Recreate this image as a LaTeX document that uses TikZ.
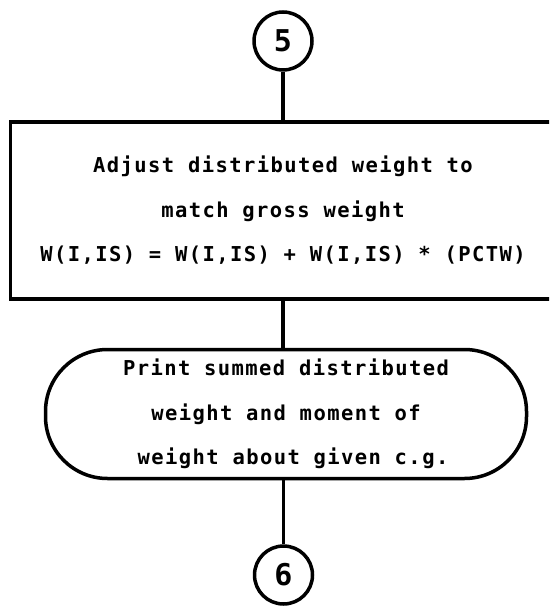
\documentclass[tikz,border=0pt]{standalone}
\usepackage{fontspec}
\newfontfamily\lettering[LetterSpace=6.9]{DejaVu Sans Mono}
\begin{document}
\begin{tikzpicture}[x=1pt, y=1pt, line width=3.5pt,
  conn/.style={draw, circle, minimum size=58pt, inner sep=0pt, font=\lettering\bfseries\fontsize{30}{30}\selectfont},
  txt/.style={draw, align=center, inner sep=0pt, font=\lettering\bfseries\fontsize{20.5}{44.5}\selectfont}]
\clip (0,0) rectangle (549,-612);
\node[conn] (c5) at (283,-41) {5};
\node[txt, minimum width=545pt, minimum height=177pt] (adjust) at (283,-210.5) {Adjust distributed weight to\\ match gross weight\\ W(I,IS) = W(I,IS) + W(I,IS) * (PCTW)};
\node[txt, rounded corners=62pt, minimum width=481pt, minimum height=129pt] (print) at (286,-414) {Print summed distributed\\ weight and moment of\\ \hspace*{14pt}weight about given c.g.};
\node[conn] (c6) at (283.5,-575) {6};
\draw (c5) -- (adjust);
\draw (adjust.south) -- (adjust.south |- print.north);
\draw (c6.north |- print.south) -- (c6);
\end{tikzpicture}
\end{document}
